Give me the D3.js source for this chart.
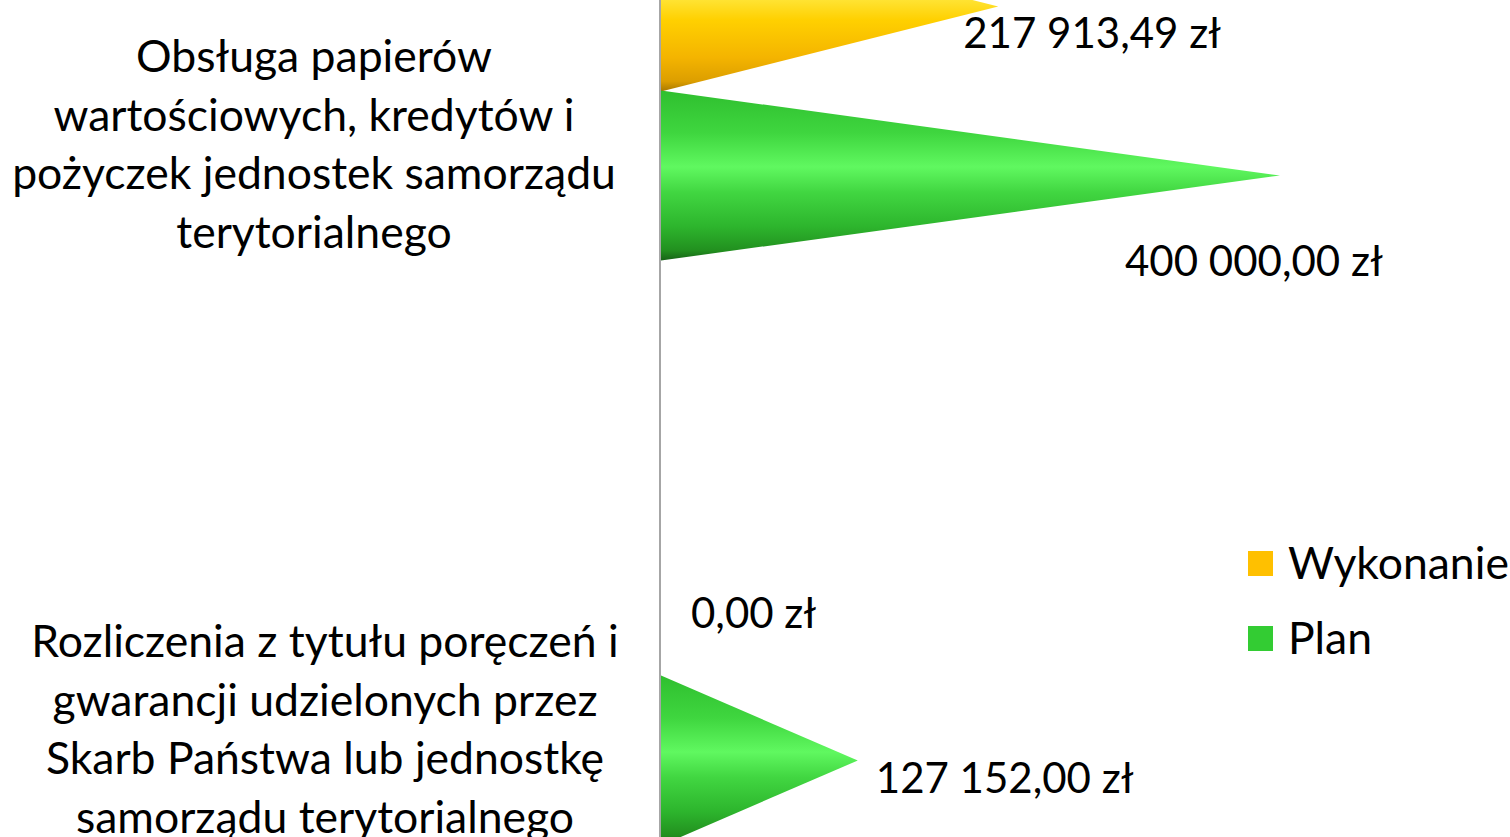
<!DOCTYPE html>
<html>
<head>
<meta charset="utf-8">
<script src="https://cdn.jsdelivr.net/npm/d3@7"></script>
<style>
  html, body { margin: 0; padding: 0; background: #fff; }
  svg { display: block; font-family: Lato, "Open Sans", sans-serif; }
</style>
</head>
<body>
<div id="chart"></div>
<script>
// Stożki poziome (Excel 3D) – Plan vs Wykonanie
const categories = [
  ["Obsługa papierów", "wartościowych, kredytów i", "pożyczek jednostek samorządu", "terytorialnego"],
  ["Rozliczenia z tytułu poręczeń i", "gwarancji udzielonych przez", "Skarb Państwa lub jednostkę", "samorządu terytorialnego"]
]
const categoryKeys = ["obsluga", "rozliczenia"]
const seriesNames = ["Wykonanie", "Plan"]
const wykonanie = [217913.49, 0]
const plan = [400000, 127152]

const W = 1510, H = 837
const colors = { Wykonanie: "#ffc000", Plan: "#33cc33" }

// Przesunięcia etykiet danych względem czubka stożka (jak w oryginale).
const labelOffsets = {
  Wykonanie: [[-35, 26], [30, 21]],
  Plan: [[-155, 85], [18, 17]]
}
// Środek poziomy etykiet kategorii.
const catLabelX = [314, 325]

const svg = d3.select("#chart").append("svg")
  .attr("width", W).attr("height", H)
  .attr("viewBox", `0 0 ${W} ${H}`)

// X : 0 → 400 000 zł
const x = d3.scaleLinear().domain([0, 400000]).range([661, 1280])

// Y : pasma kategorii, w środku dwie serie
const y0 = d3.scaleBand().domain(categoryKeys).range([-201.5, 968.5])
const y1 = d3.scalePoint().domain(seriesNames).range([-84.5, 84.5])
const coneHalf = 85

const fmt = v => {
  const [i, d] = v.toFixed(2).split(".")
  return i.replace(/\B(?=(\d{3})+(?!\d))/g, " ") + "," + d + " zł"
}

// --- Gradienty (cieniowanie walca/stożka) ---
const defs = svg.append("defs")
const stops = {
  Plan: [[0, "#2fbf2f"], [0.25, "#3fd63f"], [0.45, "#60f860"], [0.6, "#41d641"], [0.8, "#2db52d"], [0.94, "#22901f"], [1, "#176317"]],
  Wykonanie: [[0, "#f2b400"], [0.25, "#ffcf00"], [0.43, "#ffe840"], [0.58, "#ffd000"], [0.8, "#f4b400"], [0.94, "#dc9e00"], [1, "#a87800"]]
}
for (const s of seriesNames) {
  const lg = defs.append("linearGradient").attr("id", "g-" + s)
    .attr("x1", 0).attr("y1", 0).attr("x2", 0).attr("y2", 1)
  lg.selectAll("stop").data(stops[s]).join("stop")
    .attr("offset", d => d[0]).attr("stop-color", d => d[1])
}

// --- Oś pionowa ---
svg.append("line")
  .attr("x1", 660).attr("x2", 660).attr("y1", 0).attr("y2", H)
  .attr("stroke", "#a6a6a6").attr("stroke-width", 2)

const points = []
categoryKeys.forEach((k, ci) => {
  seriesNames.forEach(s => {
    const v = (s === "Plan" ? plan : wykonanie)[ci]
    const cy = y0(k) + y0.bandwidth() / 2 + y1(s)
    points.push({ ci, s, v, cy, off: labelOffsets[s][ci] })
  })
})

// --- Stożki ---
svg.selectAll("path.cone")
  .data(points.filter(d => d.v > 0))
  .join("path")
  .attr("class", "cone")
  .attr("d", d => `M${x(0)},${d.cy - coneHalf} L${x(d.v)},${d.cy} L${x(0)},${d.cy + coneHalf} Z`)
  .attr("fill", d => `url(#g-${d.s})`)

// --- Etykiety danych ---
svg.selectAll("text.val")
  .data(points)
  .join("text")
  .attr("class", "val")
  .attr("x", d => x(d.v) + d.off[0])
  .attr("y", d => d.cy + d.off[1] + 15)
  .attr("font-size", 42).attr("fill", "#000")
  .text(d => fmt(d.v))

// --- Etykiety kategorii ---
categoryKeys.forEach((k, ci) => {
  const mid = y0(k) + y0.bandwidth() / 2 + 53
  const t = svg.append("text")
    .attr("text-anchor", "middle").attr("font-size", 44.5).attr("fill", "#000")
  categories[ci].forEach((line, i) => {
    t.append("tspan")
      .attr("x", catLabelX[ci])
      .attr("y", mid + 16 + (i - 1.5) * 58.5)
      .text(line)
  })
})

// --- Legenda ---
const legend = svg.append("g").attr("transform", "translate(1248,551)")
seriesNames.forEach((s, i) => {
  const g = legend.append("g").attr("transform", `translate(0,${i * 75})`)
  g.append("rect").attr("width", 25).attr("height", 25).attr("fill", colors[s])
  g.append("text").attr("x", 40).attr("y", 28)
    .attr("font-size", 44.5).attr("fill", "#000").text(s)
})
</script>
</body>
</html>
